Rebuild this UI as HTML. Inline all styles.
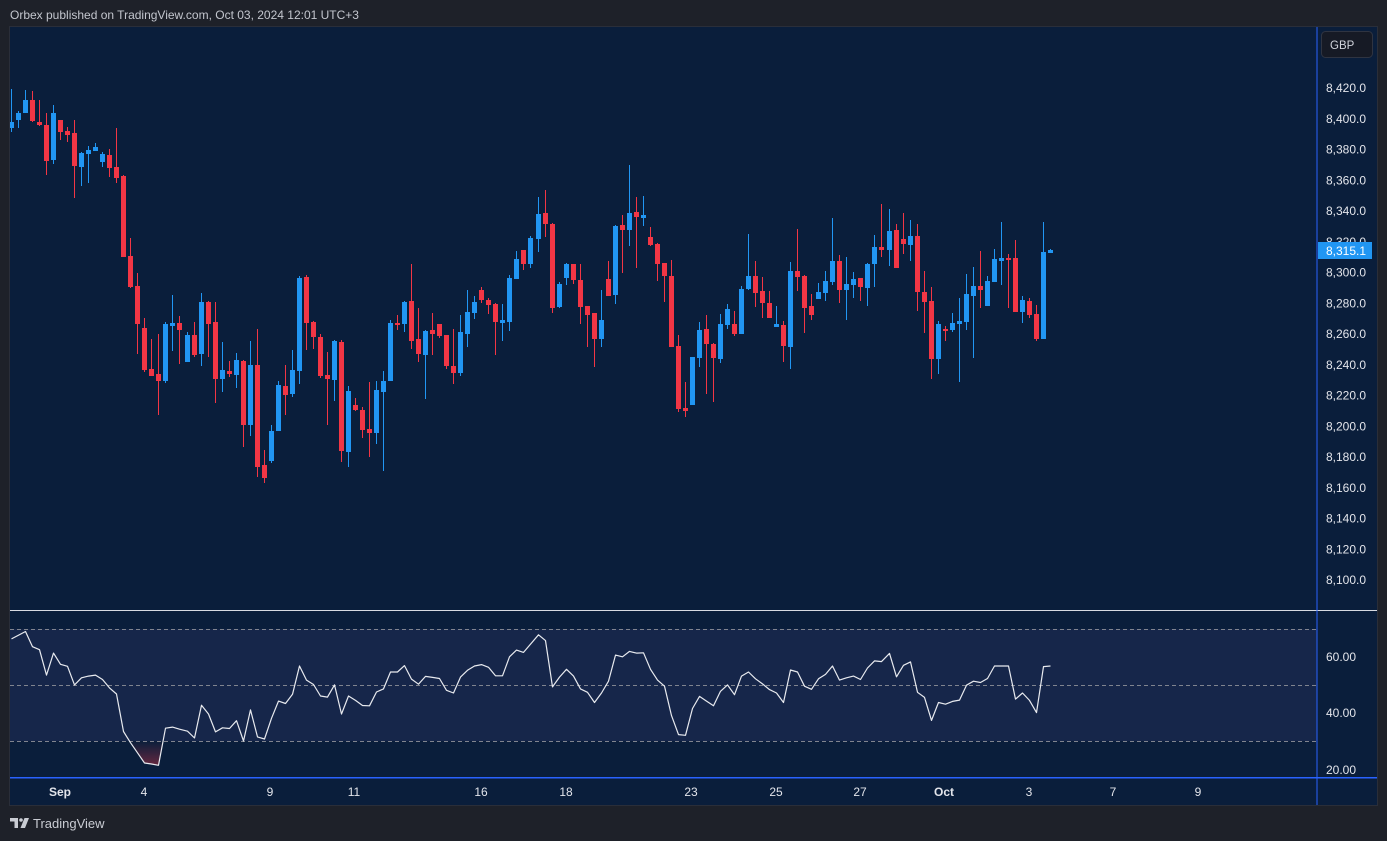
<!DOCTYPE html>
<html><head><meta charset="utf-8"><style>
html,body{margin:0;padding:0;background:#1e2129;width:1387px;height:841px;overflow:hidden}
svg{display:block}
text{font-family:"Liberation Sans",Arial,sans-serif}
</style></head><body>
<svg width="1387" height="841" viewBox="0 0 1387 841" xmlns="http://www.w3.org/2000/svg">
<defs>
<clipPath id="pc"><rect x="10" y="27" width="1307" height="584"/></clipPath>
<linearGradient id="os" x1="0" y1="741" x2="0" y2="766" gradientUnits="userSpaceOnUse">
<stop offset="0" stop-color="#f23645" stop-opacity="0"/><stop offset="1" stop-color="#f23645" stop-opacity="0.4"/></linearGradient>
</defs>
<rect x="0" y="0" width="1387" height="841" fill="#1e2129"/>
<text x="10" y="19" font-size="12" fill="#c3c6ce">Orbex published on TradingView.com, Oct 03, 2024 12:01 UTC+3</text>
<rect x="9.5" y="26.5" width="1368" height="779" fill="#0a1e3b" stroke="#2a2e39" stroke-width="1"/>
<rect x="10" y="629" width="1307" height="112" fill="#16264a"/>
<g stroke="#80848f" stroke-width="1" stroke-dasharray="4 3">
<line x1="10" y1="629.5" x2="1316" y2="629.5"/>
<line x1="10" y1="685.5" x2="1316" y2="685.5"/>
<line x1="10" y1="741.5" x2="1316" y2="741.5"/>
</g>
<polygon points="129.4,741 130.5,742.7 137.5,752.8 144.5,763 151.5,764 158.5,765.3 163,741" fill="url(#os)"/>
<polyline fill="none" stroke="#e8eaef" stroke-width="1.2" stroke-linejoin="round" points="11.5,638.9 25.5,631.5 32.5,646.7 39.5,649.7 46.5,675.1 53.5,653.1 60.5,664.3 67.5,666.3 74.5,684.9 81.5,677.8 88.5,676.1 95.5,675.1 102.5,679.5 109.5,687.9 116.5,694 123.5,731.5 130.5,742.7 137.5,752.8 144.5,763 151.5,764 158.5,765.3 165.5,728.2 172.5,727.1 179.5,729.2 187.5,731.2 194.5,738 201.5,705.2 208.5,714 215.5,731.9 222.5,727.8 229.5,728.5 236.5,720.7 243.5,741 250.5,709.9 257.5,736.9 264.5,739 271.5,718.3 278.5,701.1 285.5,703.5 292.5,694.3 299.5,666 306.5,680.1 313.5,684.5 320.5,696 327.5,697.1 334.5,684.9 341.5,714 348.5,696 355.5,700.4 362.5,705.5 369.5,705.8 376.5,692 383.5,688.9 390.5,672 397.5,672 404.5,665.6 411.5,679.1 418.5,684.2 425.5,676.4 432.5,677.4 439.5,678.5 446.5,690.3 453.5,693 460.5,677.1 467.5,670.3 474.5,666 481.5,664.6 488.5,667.3 495.5,675.8 502.5,675.8 509.5,656.8 516.5,650.1 523.5,652.4 538.5,634.8 545.5,640.6 552.5,686.9 559.5,677.1 566.5,669.3 573.5,676.1 580.5,688.9 587.5,692.3 594.5,702.5 601.5,693 608.5,681.2 615.5,655.1 622.5,656.8 629.5,651.4 636.5,653.1 643.5,652.8 650.5,669.3 657.5,680.1 664.5,686.2 671.5,715.6 678.5,734.6 685.5,735.3 692.5,708.5 699.5,696.4 706.5,701.1 713.5,705.8 720.5,691.3 727.5,684.9 734.5,694.7 741.5,676.1 748.5,672 755.5,678.8 762.5,683.9 769.5,689.6 776.5,693 783.5,702.5 790.5,670 797.5,672 804.5,686.2 811.5,689.3 818.5,678.8 825.5,674.4 832.5,666 839.5,680.1 846.5,677.8 853.5,676.1 860.5,679.5 867.5,668 874.5,660.9 881.5,661.6 889.5,653.4 896.5,676.8 903.5,665.3 910.5,661.9 917.5,692.3 924.5,697.4 931.5,720.4 938.5,702.5 945.5,704.2 952.5,701.4 959.5,700.1 966.5,685.2 973.5,681.2 980.5,682.5 987.5,678.5 994.5,666 1001.5,666 1008.5,666 1015.5,699.1 1022.5,693 1029.5,700.4 1036.5,712.6 1043.5,666.6 1050.5,666"/>
<g clip-path="url(#pc)">
<g fill="#2196f3">
<rect x="11" y="89" width="1" height="43"/><rect x="9" y="122" width="5" height="6"/>
<rect x="18" y="111" width="1" height="17"/><rect x="16" y="113" width="5" height="7"/>
<rect x="25" y="90" width="1" height="23"/><rect x="23" y="100" width="5" height="13"/>
<rect x="53" y="105" width="1" height="59"/><rect x="51" y="113" width="5" height="47"/>
<rect x="81" y="152" width="1" height="34"/><rect x="79" y="153" width="5" height="14"/>
<rect x="88" y="146" width="1" height="37"/><rect x="86" y="150" width="5" height="4"/>
<rect x="95" y="143" width="1" height="8"/><rect x="93" y="147" width="5" height="4"/>
<rect x="102" y="152" width="1" height="15"/><rect x="100" y="154" width="5" height="8"/>
<rect x="165" y="322" width="1" height="61"/><rect x="163" y="324" width="5" height="57"/>
<rect x="172" y="295" width="1" height="56"/><rect x="170" y="323" width="5" height="3"/>
<rect x="187" y="332" width="1" height="30"/><rect x="185" y="335" width="5" height="27"/>
<rect x="201" y="293" width="1" height="73"/><rect x="199" y="302" width="5" height="52"/>
<rect x="222" y="342" width="1" height="50"/><rect x="220" y="370" width="5" height="9"/>
<rect x="236" y="353" width="1" height="35"/><rect x="234" y="360" width="5" height="15"/>
<rect x="250" y="341" width="1" height="95"/><rect x="248" y="365" width="5" height="60"/>
<rect x="271" y="425" width="1" height="38"/><rect x="269" y="431" width="5" height="30"/>
<rect x="278" y="381" width="1" height="50"/><rect x="276" y="385" width="5" height="46"/>
<rect x="292" y="350" width="1" height="47"/><rect x="290" y="370" width="5" height="24"/>
<rect x="299" y="276" width="1" height="108"/><rect x="297" y="278" width="5" height="93"/>
<rect x="334" y="340" width="1" height="61"/><rect x="332" y="341" width="5" height="39"/>
<rect x="348" y="386" width="1" height="81"/><rect x="346" y="391" width="5" height="61"/>
<rect x="376" y="381" width="1" height="63"/><rect x="374" y="390" width="5" height="43"/>
<rect x="383" y="371" width="1" height="100"/><rect x="381" y="381" width="5" height="11"/>
<rect x="390" y="320" width="1" height="61"/><rect x="388" y="323" width="5" height="58"/>
<rect x="404" y="301" width="1" height="31"/><rect x="402" y="302" width="5" height="22"/>
<rect x="425" y="330" width="1" height="69"/><rect x="423" y="331" width="5" height="24"/>
<rect x="460" y="315" width="1" height="61"/><rect x="458" y="332" width="5" height="41"/>
<rect x="467" y="290" width="1" height="57"/><rect x="465" y="312" width="5" height="22"/>
<rect x="474" y="296" width="1" height="23"/><rect x="472" y="302" width="5" height="11"/>
<rect x="502" y="304" width="1" height="37"/><rect x="500" y="320" width="5" height="3"/>
<rect x="509" y="275" width="1" height="56"/><rect x="507" y="278" width="5" height="44"/>
<rect x="516" y="251" width="1" height="28"/><rect x="514" y="259" width="5" height="20"/>
<rect x="530" y="236" width="1" height="32"/><rect x="528" y="238" width="5" height="26"/>
<rect x="538" y="197" width="1" height="55"/><rect x="536" y="214" width="5" height="25"/>
<rect x="559" y="282" width="1" height="26"/><rect x="557" y="284" width="5" height="23"/>
<rect x="566" y="263" width="1" height="22"/><rect x="564" y="264" width="5" height="14"/>
<rect x="601" y="290" width="1" height="57"/><rect x="599" y="320" width="5" height="19"/>
<rect x="615" y="225" width="1" height="79"/><rect x="613" y="226" width="5" height="69"/>
<rect x="629" y="165" width="1" height="81"/><rect x="627" y="213" width="5" height="17"/>
<rect x="643" y="196" width="1" height="30"/><rect x="641" y="215" width="5" height="3"/>
<rect x="692" y="357" width="1" height="48"/><rect x="690" y="357" width="5" height="48"/>
<rect x="699" y="322" width="1" height="45"/><rect x="697" y="330" width="5" height="28"/>
<rect x="720" y="314" width="1" height="49"/><rect x="718" y="324" width="5" height="35"/>
<rect x="727" y="304" width="1" height="25"/><rect x="725" y="309" width="5" height="16"/>
<rect x="741" y="286" width="1" height="48"/><rect x="739" y="289" width="5" height="45"/>
<rect x="748" y="234" width="1" height="56"/><rect x="746" y="276" width="5" height="13"/>
<rect x="776" y="306" width="1" height="21"/><rect x="774" y="324" width="5" height="3"/>
<rect x="790" y="262" width="1" height="107"/><rect x="788" y="271" width="5" height="76"/>
<rect x="818" y="283" width="1" height="16"/><rect x="816" y="292" width="5" height="7"/>
<rect x="825" y="271" width="1" height="30"/><rect x="823" y="281" width="5" height="12"/>
<rect x="832" y="218" width="1" height="67"/><rect x="830" y="261" width="5" height="21"/>
<rect x="846" y="257" width="1" height="63"/><rect x="844" y="284" width="5" height="6"/>
<rect x="853" y="272" width="1" height="26"/><rect x="851" y="279" width="5" height="6"/>
<rect x="867" y="263" width="1" height="43"/><rect x="865" y="264" width="5" height="24"/>
<rect x="874" y="235" width="1" height="52"/><rect x="872" y="247" width="5" height="17"/>
<rect x="889" y="209" width="1" height="57"/><rect x="887" y="231" width="5" height="19"/>
<rect x="910" y="220" width="1" height="41"/><rect x="908" y="236" width="5" height="9"/>
<rect x="938" y="321" width="1" height="53"/><rect x="936" y="324" width="5" height="35"/>
<rect x="952" y="313" width="1" height="19"/><rect x="950" y="323" width="5" height="7"/>
<rect x="959" y="298" width="1" height="84"/><rect x="957" y="321" width="5" height="3"/>
<rect x="966" y="274" width="1" height="56"/><rect x="964" y="294" width="5" height="28"/>
<rect x="973" y="267" width="1" height="91"/><rect x="971" y="286" width="5" height="10"/>
<rect x="987" y="276" width="1" height="30"/><rect x="985" y="281" width="5" height="25"/>
<rect x="994" y="249" width="1" height="33"/><rect x="992" y="259" width="5" height="23"/>
<rect x="1001" y="222" width="1" height="63"/><rect x="999" y="258" width="5" height="3"/>
<rect x="1022" y="296" width="1" height="27"/><rect x="1020" y="300" width="5" height="12"/>
<rect x="1043" y="222" width="1" height="117"/><rect x="1041" y="252" width="5" height="87"/>
<rect x="1050" y="249" width="1" height="4"/><rect x="1048" y="250" width="5" height="3"/>
</g>
<g fill="#f23645">
<rect x="32" y="91" width="1" height="31"/><rect x="30" y="100" width="5" height="21"/>
<rect x="39" y="100" width="1" height="26"/><rect x="37" y="122" width="5" height="3"/>
<rect x="46" y="113" width="1" height="62"/><rect x="44" y="125" width="5" height="36"/>
<rect x="60" y="120" width="1" height="20"/><rect x="58" y="120" width="5" height="12"/>
<rect x="67" y="127" width="1" height="15"/><rect x="65" y="131" width="5" height="4"/>
<rect x="74" y="120" width="1" height="78"/><rect x="72" y="133" width="5" height="33"/>
<rect x="109" y="149" width="1" height="28"/><rect x="107" y="155" width="5" height="13"/>
<rect x="116" y="128" width="1" height="55"/><rect x="114" y="167" width="5" height="11"/>
<rect x="123" y="175" width="1" height="82"/><rect x="121" y="176" width="5" height="81"/>
<rect x="130" y="238" width="1" height="50"/><rect x="128" y="256" width="5" height="31"/>
<rect x="137" y="273" width="1" height="81"/><rect x="135" y="286" width="5" height="38"/>
<rect x="144" y="318" width="1" height="54"/><rect x="142" y="328" width="5" height="42"/>
<rect x="151" y="339" width="1" height="37"/><rect x="149" y="369" width="5" height="7"/>
<rect x="158" y="334" width="1" height="81"/><rect x="156" y="374" width="5" height="7"/>
<rect x="179" y="316" width="1" height="48"/><rect x="177" y="323" width="5" height="7"/>
<rect x="194" y="322" width="1" height="35"/><rect x="192" y="335" width="5" height="20"/>
<rect x="208" y="301" width="1" height="56"/><rect x="206" y="302" width="5" height="22"/>
<rect x="215" y="302" width="1" height="101"/><rect x="213" y="322" width="5" height="57"/>
<rect x="229" y="361" width="1" height="16"/><rect x="227" y="371" width="5" height="3"/>
<rect x="243" y="360" width="1" height="87"/><rect x="241" y="361" width="5" height="64"/>
<rect x="257" y="329" width="1" height="148"/><rect x="255" y="365" width="5" height="102"/>
<rect x="264" y="450" width="1" height="33"/><rect x="262" y="465" width="5" height="13"/>
<rect x="285" y="365" width="1" height="50"/><rect x="283" y="386" width="5" height="9"/>
<rect x="306" y="275" width="1" height="75"/><rect x="304" y="277" width="5" height="46"/>
<rect x="313" y="321" width="1" height="28"/><rect x="311" y="322" width="5" height="15"/>
<rect x="320" y="334" width="1" height="44"/><rect x="318" y="337" width="5" height="39"/>
<rect x="327" y="352" width="1" height="73"/><rect x="325" y="375" width="5" height="4"/>
<rect x="341" y="340" width="1" height="122"/><rect x="339" y="342" width="5" height="109"/>
<rect x="355" y="398" width="1" height="13"/><rect x="353" y="405" width="5" height="5"/>
<rect x="362" y="407" width="1" height="31"/><rect x="360" y="410" width="5" height="20"/>
<rect x="369" y="382" width="1" height="75"/><rect x="367" y="429" width="5" height="4"/>
<rect x="397" y="315" width="1" height="15"/><rect x="395" y="323" width="5" height="2"/>
<rect x="411" y="264" width="1" height="85"/><rect x="409" y="301" width="5" height="40"/>
<rect x="418" y="308" width="1" height="54"/><rect x="416" y="339" width="5" height="15"/>
<rect x="432" y="313" width="1" height="42"/><rect x="430" y="330" width="5" height="4"/>
<rect x="439" y="324" width="1" height="14"/><rect x="437" y="324" width="5" height="12"/>
<rect x="446" y="335" width="1" height="34"/><rect x="444" y="335" width="5" height="31"/>
<rect x="453" y="329" width="1" height="55"/><rect x="451" y="366" width="5" height="7"/>
<rect x="481" y="287" width="1" height="16"/><rect x="479" y="290" width="5" height="10"/>
<rect x="488" y="298" width="1" height="16"/><rect x="486" y="300" width="5" height="5"/>
<rect x="495" y="303" width="1" height="52"/><rect x="493" y="304" width="5" height="18"/>
<rect x="523" y="250" width="1" height="20"/><rect x="521" y="250" width="5" height="14"/>
<rect x="545" y="190" width="1" height="47"/><rect x="543" y="213" width="5" height="11"/>
<rect x="552" y="223" width="1" height="90"/><rect x="550" y="224" width="5" height="84"/>
<rect x="573" y="264" width="1" height="20"/><rect x="571" y="264" width="5" height="16"/>
<rect x="580" y="264" width="1" height="60"/><rect x="578" y="280" width="5" height="27"/>
<rect x="587" y="306" width="1" height="41"/><rect x="585" y="306" width="5" height="9"/>
<rect x="594" y="313" width="1" height="54"/><rect x="592" y="313" width="5" height="26"/>
<rect x="608" y="261" width="1" height="35"/><rect x="606" y="279" width="5" height="17"/>
<rect x="622" y="215" width="1" height="58"/><rect x="620" y="225" width="5" height="5"/>
<rect x="636" y="197" width="1" height="71"/><rect x="634" y="212" width="5" height="5"/>
<rect x="650" y="227" width="1" height="19"/><rect x="648" y="237" width="5" height="8"/>
<rect x="657" y="243" width="1" height="38"/><rect x="655" y="244" width="5" height="20"/>
<rect x="664" y="263" width="1" height="39"/><rect x="662" y="263" width="5" height="13"/>
<rect x="671" y="260" width="1" height="87"/><rect x="669" y="276" width="5" height="71"/>
<rect x="678" y="335" width="1" height="77"/><rect x="676" y="346" width="5" height="63"/>
<rect x="685" y="382" width="1" height="35"/><rect x="683" y="408" width="5" height="3"/>
<rect x="706" y="315" width="1" height="79"/><rect x="704" y="329" width="5" height="15"/>
<rect x="713" y="343" width="1" height="59"/><rect x="711" y="344" width="5" height="14"/>
<rect x="734" y="311" width="1" height="25"/><rect x="732" y="324" width="5" height="10"/>
<rect x="755" y="261" width="1" height="46"/><rect x="753" y="276" width="5" height="17"/>
<rect x="762" y="277" width="1" height="41"/><rect x="760" y="291" width="5" height="12"/>
<rect x="769" y="291" width="1" height="27"/><rect x="767" y="303" width="5" height="15"/>
<rect x="783" y="321" width="1" height="41"/><rect x="781" y="325" width="5" height="21"/>
<rect x="797" y="229" width="1" height="62"/><rect x="795" y="271" width="5" height="6"/>
<rect x="804" y="275" width="1" height="58"/><rect x="802" y="276" width="5" height="32"/>
<rect x="811" y="294" width="1" height="26"/><rect x="809" y="306" width="5" height="9"/>
<rect x="839" y="255" width="1" height="48"/><rect x="837" y="261" width="5" height="29"/>
<rect x="860" y="278" width="1" height="23"/><rect x="858" y="278" width="5" height="9"/>
<rect x="881" y="204" width="1" height="53"/><rect x="879" y="247" width="5" height="3"/>
<rect x="896" y="224" width="1" height="44"/><rect x="894" y="230" width="5" height="38"/>
<rect x="903" y="213" width="1" height="41"/><rect x="901" y="239" width="5" height="5"/>
<rect x="917" y="224" width="1" height="87"/><rect x="915" y="236" width="5" height="56"/>
<rect x="924" y="271" width="1" height="62"/><rect x="922" y="292" width="5" height="10"/>
<rect x="931" y="287" width="1" height="92"/><rect x="929" y="301" width="5" height="58"/>
<rect x="945" y="326" width="1" height="15"/><rect x="943" y="329" width="5" height="2"/>
<rect x="980" y="251" width="1" height="57"/><rect x="978" y="286" width="5" height="4"/>
<rect x="1008" y="254" width="1" height="54"/><rect x="1006" y="258" width="5" height="2"/>
<rect x="1015" y="240" width="1" height="72"/><rect x="1013" y="258" width="5" height="54"/>
<rect x="1029" y="298" width="1" height="20"/><rect x="1027" y="301" width="5" height="14"/>
<rect x="1036" y="305" width="1" height="36"/><rect x="1034" y="314" width="5" height="25"/>
</g>
</g>
<rect x="10" y="610" width="1367" height="1" fill="#d8dbe2"/>
<rect x="10" y="777" width="1367" height="1.5" fill="#2962ff"/>
<rect x="1316.5" y="27" width="1" height="778" fill="#2962ff"/>
<g font-size="12" fill="#e3e5eb">
<text x="1326" y="92">8,420.0</text>
<text x="1326" y="122.75">8,400.0</text>
<text x="1326" y="153.5">8,380.0</text>
<text x="1326" y="184.25">8,360.0</text>
<text x="1326" y="215">8,340.0</text>
<text x="1326" y="245.75">8,320.0</text>
<text x="1326" y="276.5">8,300.0</text>
<text x="1326" y="307.25">8,280.0</text>
<text x="1326" y="338">8,260.0</text>
<text x="1326" y="368.75">8,240.0</text>
<text x="1326" y="399.5">8,220.0</text>
<text x="1326" y="430.25">8,200.0</text>
<text x="1326" y="461">8,180.0</text>
<text x="1326" y="491.75">8,160.0</text>
<text x="1326" y="522.5">8,140.0</text>
<text x="1326" y="553.25">8,120.0</text>
<text x="1326" y="584">8,100.0</text>
<text x="1326" y="661">60.00</text>
<text x="1326" y="717">40.00</text>
<text x="1326" y="774">20.00</text>
</g>
<rect x="1318" y="242" width="54" height="17" fill="#2196f3"/>
<text x="1326" y="255" font-size="12" fill="#ffffff">8,315.1</text>
<rect x="1321.5" y="31.5" width="51" height="26" rx="4" fill="#161a25" stroke="#2f3441"/>
<text x="1330" y="49" font-size="11.5" fill="#d1d4dc">GBP</text>
<g font-size="12" fill="#e3e5eb" text-anchor="middle">
<text x="60" y="796" font-weight="bold">Sep</text>
<text x="144" y="796">4</text>
<text x="270" y="796">9</text>
<text x="354" y="796">11</text>
<text x="481" y="796">16</text>
<text x="566" y="796">18</text>
<text x="691" y="796">23</text>
<text x="776" y="796">25</text>
<text x="860" y="796">27</text>
<text x="944" y="796" font-weight="bold">Oct</text>
<text x="1029" y="796">3</text>
<text x="1113" y="796">7</text>
<text x="1198" y="796">9</text>
</g>
<g fill="#c9ccd3">
<path d="M10 818h8v10h-3.5v-6.5H10z"/>
<circle cx="21" cy="820" r="1.8"/>
<path d="M24.5 818h4.5l-4 10h-4.5z"/>
</g>
<text x="33" y="828" font-size="13" fill="#c9ccd3">TradingView</text>
</svg>
</body></html>
